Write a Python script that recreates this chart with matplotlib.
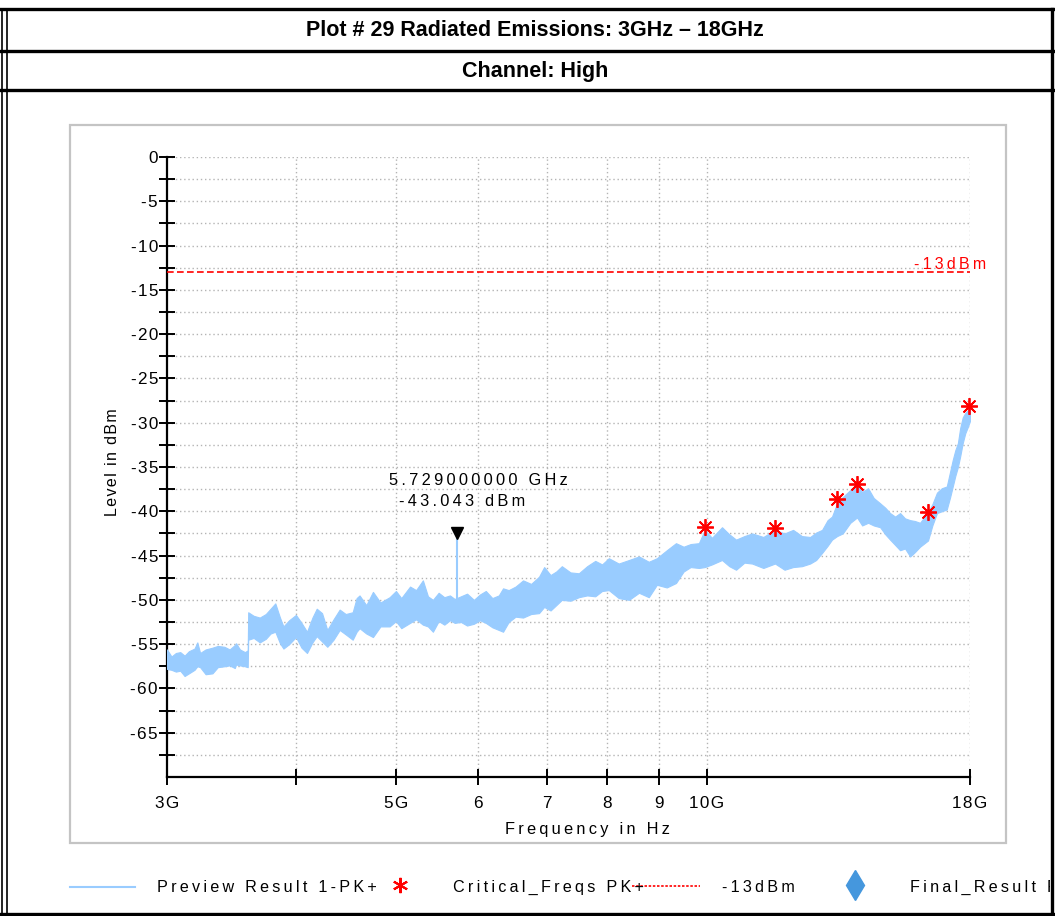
import matplotlib
matplotlib.use('Agg')
import matplotlib.pyplot as plt
from matplotlib.lines import Line2D
from matplotlib.patches import Rectangle
from matplotlib.transforms import Bbox, offset_copy
import numpy as np

# ---- data ----
title_1 = 'Plot # 29 Radiated Emissions: 3GHz \u2013 18GHz'
title_2 = 'Channel: High'

# preview trace (PK+), envelope of the dense trace: GHz, upper dBm, lower dBm
trace_ghz = [3.00, 3.03, 3.06, 3.09, 3.12, 3.15, 3.19, 3.21, 3.23, 3.27, 3.32,
             3.36, 3.41, 3.45, 3.49, 3.50, 3.53, 3.57, 3.592, 3.596, 3.64, 3.69,
             3.74, 3.78, 3.82, 3.86, 3.89, 3.94, 4.00, 4.05, 4.10, 4.15,
             4.19, 4.24, 4.29, 4.35, 4.41, 4.47, 4.54, 4.58, 4.61, 4.68,
             4.75, 4.83, 4.93, 5.00, 5.06, 5.16, 5.23, 5.31, 5.37, 5.43,
             5.50, 5.57, 5.64, 5.70, 5.78, 5.86, 5.95, 6.03, 6.11, 6.20,
             6.29, 6.35, 6.43, 6.53, 6.64, 6.76, 6.88, 6.96, 7.06, 7.15,
             7.24, 7.38, 7.52, 7.66, 7.80, 7.92, 8.04, 8.22, 8.41, 8.60,
             8.79, 8.95, 9.15, 9.34, 9.50, 9.65, 9.83, 9.96, 10.12, 10.35,
             10.52, 10.68, 10.88, 11.07, 11.35, 11.65, 11.90, 12.13, 12.37, 12.60,
             12.77, 12.94, 13.10, 13.23, 13.38, 13.55, 13.78, 13.99, 14.15, 14.34,
             14.52, 14.73, 14.90, 15.06, 15.23, 15.40, 15.57, 15.75, 15.92, 16.10,
             16.39, 16.55, 16.72, 16.90, 17.09, 17.22, 17.32, 17.42, 17.52, 17.61,
             17.71, 17.81, 17.91, 18.00]
trace_hi = [-55.6, -56.4, -56.0, -55.9, -56.3, -55.8, -55.5, -54.8, -56.0, -55.6, -55.4,
            -55.2, -55.3, -55.6, -55.1, -54.9, -55.6, -55.9, -55.7, -51.4, -51.8, -52.0,
            -51.6, -51.0, -50.4, -52.0, -53.0, -52.3, -51.7, -52.6, -53.6, -52.0,
            -51.0, -51.5, -53.4, -52.2, -51.1, -51.6, -51.4, -49.8, -49.5, -50.6,
            -49.1, -50.3, -49.7, -49.0, -49.8, -48.5, -48.9, -47.8, -49.6, -50.0,
            -49.2, -49.7, -49.5, -49.9, -49.6, -49.3, -50.0, -49.4, -49.0, -49.8,
            -49.5, -48.7, -48.9, -48.5, -47.8, -48.2, -47.4, -46.3, -47.2, -46.8,
            -46.2, -46.9, -47.0, -46.2, -45.6, -46.0, -45.3, -45.9, -45.5, -45.1,
            -45.7, -45.3, -44.4, -43.6, -44.0, -43.7, -43.6, -42.1, -43.0, -41.8,
            -42.6, -43.2, -42.8, -42.5, -42.9, -42.1, -42.5, -42.1, -42.8, -42.9,
            -42.4, -42.1, -41.0, -40.6, -39.1, -38.4, -37.6, -37.1, -37.8, -37.4,
            -38.5, -39.1, -39.6, -40.2, -40.6, -40.2, -40.8, -41.0, -41.1, -41.3,
            -40.1, -39.2, -37.9, -37.4, -37.2, -35.5, -34.2, -33.1, -32.3, -30.6,
            -29.4, -28.9, -28.6, -28.3]
trace_lo = [-57.8, -57.9, -58.1, -58.0, -58.6, -58.3, -57.9, -57.5, -57.6, -58.4, -58.3,
            -57.6, -57.5, -57.4, -57.7, -57.3, -57.4, -57.5, -57.6, -54.5, -54.3, -54.8,
            -54.4, -53.8, -53.6, -54.9, -55.5, -55.0, -54.2, -55.4, -56.0, -54.8,
            -54.1, -54.7, -55.3, -54.5, -53.4, -53.9, -54.5, -53.6, -53.2, -53.8,
            -54.2, -53.0, -53.0, -52.4, -53.2, -52.6, -52.2, -52.8, -53.0, -53.6,
            -52.4, -52.8, -52.3, -52.6, -52.5, -52.9, -52.7, -52.3, -52.6, -53.1,
            -53.4, -53.6, -52.5, -51.9, -52.0, -51.6, -51.5, -50.8, -51.2, -50.6,
            -50.0, -50.1, -49.7, -49.5, -49.6, -49.0, -48.9, -49.8, -50.0, -49.2,
            -49.7, -48.3, -48.6, -48.1, -46.8, -46.3, -46.4, -46.3, -46.0, -45.5,
            -46.2, -46.6, -45.8, -45.9, -46.4, -45.9, -46.6, -46.3, -46.2, -45.9,
            -45.5, -44.7, -43.9, -43.2, -42.8, -42.5, -41.3, -40.7, -41.6, -41.3,
            -41.6, -41.8, -42.6, -43.2, -43.8, -44.4, -44.2, -45.1, -44.6, -44.0,
            -43.3, -41.6, -40.2, -40.0, -39.8, -38.4, -37.2, -36.0, -35.0, -33.8,
            -32.3, -31.2, -30.5, -29.8]

# critical frequencies (PK+)
crit_ghz = [9.96, 11.65, 13.38, 13.99, 16.39, 17.96]
crit_db = [-41.8, -41.9, -38.6, -36.9, -40.1, -28.1]

# marker
marker_ghz = 5.729
marker_db = -43.043
marker_base_db = -50.6

limit_db = -13

x_ticks = [3, 4, 5, 6, 7, 8, 9, 10, 18]
x_ticklabels = ['3G', '', '5G', '6', '7', '8', '9', '10G', '18G']
y_major = [0, -5, -10, -15, -20, -25, -30, -35, -40, -45, -50, -55, -60, -65]
y_minor = [-2.5, -7.5, -12.5, -17.5, -22.5, -27.5, -32.5, -37.5, -42.5,
           -47.5, -52.5, -57.5, -62.5, -67.5]

legend_labels = ['Preview Result 1-PK+', 'Critical_Freqs PK+', '-13dBm',
                 'Final_Result PK+']

TRACE = '#99ccff'
RED = '#ff0000'
GRID = '#b4b4b4'

W, H = 1055, 916
plt.rcParams['font.family'] = ['Liberation Sans', 'DejaVu Sans']


def sp(s):
    # the source renders text with wide letter spacing
    return '\u2009'.join(s)


def hp(s):
    # tighter letter spacing (tick labels, y label)
    return '\u200a'.join(s)


def fx(px):
    return px / W


def fy(py):
    return 1 - py / H


fig = plt.figure(figsize=(W / 100, H / 100), dpi=100)
fig.patch.set_facecolor('white')

# ---- report table frame ----
for y0, lw in [(9, 2.4), (51, 2.4), (90, 2.4), (914, 2.4)]:
    fig.add_artist(Line2D([fx(0), fx(1055)], [fy(y0), fy(y0)], color='black',
                          lw=lw, transform=fig.transFigure))
for x0, lw in [(1.5, 1.2), (6.5, 1.2), (1052, 2.4)]:
    fig.add_artist(Line2D([fx(x0), fx(x0)], [fy(9), fy(914)], color='black',
                          lw=lw, transform=fig.transFigure))

tfam = ['Liberation Sans Narrow', 'Liberation Sans', 'DejaVu Sans']
fig.text(fx(535), fy(31), title_1, ha='center', va='center', fontsize=15.5,
         fontweight='bold', family=tfam)
fig.text(fx(535), fy(71), title_2, ha='center', va='center', fontsize=15.5,
         fontweight='bold', family=tfam)

# gray chart panel
fig.add_artist(Rectangle((fx(70), fy(843)), fx(936), 718 / H, fill=False,
                         edgecolor='#c4c4c4', lw=1.6, transform=fig.transFigure))

# ---- axes ----
ax = fig.add_axes([fx(167), fy(777), fx(970 - 167), (777 - 157) / H])
ax.set_xscale('log')
ax.set_xlim(3, 18)
ax.set_ylim(-70, 0)

ax.fill_between(trace_ghz, trace_lo, trace_hi, color=TRACE, lw=0.8,
                edgecolor=TRACE, zorder=3)
ax.vlines(marker_ghz, marker_base_db, marker_db, color=TRACE, lw=1.5, zorder=3)

ax.plot(crit_ghz, crit_db, ls='none', marker=(8, 2, 0), ms=12, mew=1.3,
        color=RED, zorder=5, clip_on=False)

ax.axhline(limit_db, color=RED, lw=1.2, ls=(0, (4, 2)), zorder=4)
ax.text(1.02, limit_db, sp('-13dBm'), color=RED, fontsize=11.5,
        transform=ax.get_yaxis_transform(), ha='right', va='bottom',
        clip_on=False)

mk_tr = offset_copy(ax.transData, fig=fig, y=4, units='points')
ax.plot([marker_ghz], [marker_db], marker='v', ms=8, color='black',
        ls='none', transform=mk_tr, zorder=6, clip_on=False)
ax.annotate(sp('5.729000000 GHz'), (marker_ghz, marker_db), xytext=(22, 58),
            textcoords='offset pixels', ha='center', va='center', fontsize=11.8)
ax.annotate(sp('-43.043 dBm'), (marker_ghz, marker_db), xytext=(5, 37),
            textcoords='offset pixels', ha='center', va='center', fontsize=11.8)

# grid
for f in x_ticks[1:]:
    ax.axvline(f, color=GRID, lw=1, ls=(0, (1, 2)), zorder=1)
for v in y_major + y_minor:
    ax.axhline(v, color=GRID, lw=1, ls=(0, (1, 2)), zorder=1)

ax.set_xticks(x_ticks)
ax.set_xticklabels([hp(t) for t in x_ticklabels])
ax.xaxis.set_minor_locator(plt.NullLocator())
ax.set_yticks(y_major)
ax.set_yticklabels([hp(str(v)) for v in y_major])
ax.set_yticks(y_minor, minor=True)
ax.tick_params(axis='both', which='both', direction='inout', length=11,
               width=1.4, labelsize=12.3, color='black')
ax.tick_params(axis='x', pad=8)
ax.tick_params(axis='y', pad=1)

for s in ['top', 'right']:
    ax.spines[s].set_visible(False)
for s in ['left', 'bottom']:
    ax.spines[s].set_linewidth(1.6)

ax.set_xlabel(sp('Frequency in Hz'), fontsize=11.8)
ax.xaxis.set_label_coords(0.524, -0.072)
ax.set_ylabel(hp('Level in dBm'), fontsize=11.5)
ax.yaxis.set_label_coords(-0.058, 0.508)

# ---- legend row ----
ly = fy(887)
fig.add_artist(Line2D([fx(70), fx(135)], [ly, ly], color=TRACE, lw=1.5,
                      transform=fig.transFigure))
fig.add_artist(Line2D([fx(400)], [fy(885)], ls='none', marker=(6, 2, 0), ms=11,
                      mew=1.5, color=RED, transform=fig.transFigure))
fig.add_artist(Line2D([fx(632), fx(700)], [fy(886), fy(886)], color=RED,
                      lw=1.2, ls=(0, (1.5, 1)), transform=fig.transFigure))
fig.add_artist(Line2D([fx(855)], [fy(885)], ls='none', marker='d', ms=15,
                      color='#4597dd', transform=fig.transFigure))
clip = Bbox([[0, 0], [1050, H]])
for x0, lab in zip([157, 453, 722, 910], legend_labels):
    t = fig.text(fx(x0), ly, sp(lab), fontsize=11.6, ha='left', va='center')
    t.set_clip_box(clip)
    t.set_clip_on(True)

fig.savefig('out.png', dpi=100)
